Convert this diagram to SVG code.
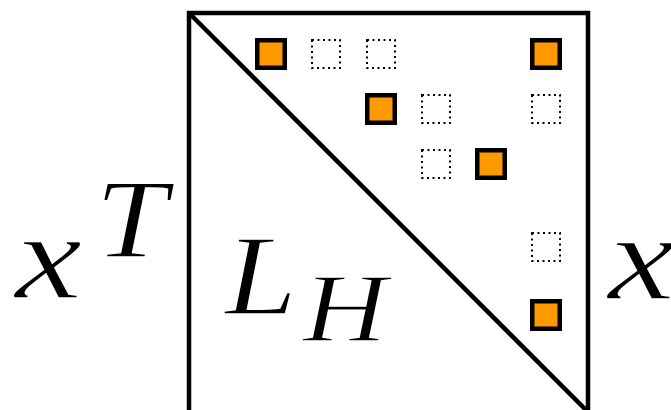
<svg xmlns="http://www.w3.org/2000/svg" width="671" height="410" viewBox="0 0 671 410">
<style>
.frame{fill:none;stroke:#000;stroke-width:4.5}
.on{fill:#FF9900;stroke:#000;stroke-width:4.5}
.off{fill:none;stroke:#000;stroke-width:2;stroke-dasharray:2 3.5}
.m{font-family:"Liberation Serif","Times New Roman",serif;font-style:italic;fill:#000;stroke:#fff;stroke-width:1.4}
</style>
<rect width="671" height="410" fill="#fff"/>
<g id="matrix">
<rect class="frame" x="189" y="13" width="399" height="420"/>
<line class="frame" x1="189" y1="13" x2="588" y2="412"/>
</g>
<g id="entries">
<rect class="on" x="257.25" y="40.25" width="27.5" height="27.5"/>
<rect class="off" x="312" y="40" width="28" height="28"/>
<rect class="off" x="367" y="40" width="28" height="28"/>
<rect class="on" x="532.25" y="40.25" width="27.5" height="27.5"/>
<rect class="on" x="367.25" y="95.25" width="27.5" height="27.5"/>
<rect class="off" x="422" y="95" width="28" height="28"/>
<rect class="off" x="532" y="95" width="28" height="28"/>
<rect class="off" x="422" y="150" width="28" height="28"/>
<rect class="on" x="477.25" y="150.25" width="27.5" height="27.5"/>
<rect class="off" x="532" y="233" width="28" height="28"/>
<rect class="on" x="532.25" y="301.25" width="27.5" height="27.5"/>
</g>
<g id="labels">
<text class="m" x="15" y="298" font-size="122" textLength="67" lengthAdjust="spacingAndGlyphs">x</text>
<text class="m" x="95" y="257" font-size="113" textLength="72" lengthAdjust="spacingAndGlyphs">T</text>
<text class="m" x="225" y="314" font-size="115" textLength="72" lengthAdjust="spacingAndGlyphs">L</text>
<text class="m" x="303" y="341" font-size="97" textLength="84" lengthAdjust="spacingAndGlyphs">H</text>
<text class="m" x="608" y="299" font-size="122" textLength="67" lengthAdjust="spacingAndGlyphs">x</text>
</g>
</svg>
